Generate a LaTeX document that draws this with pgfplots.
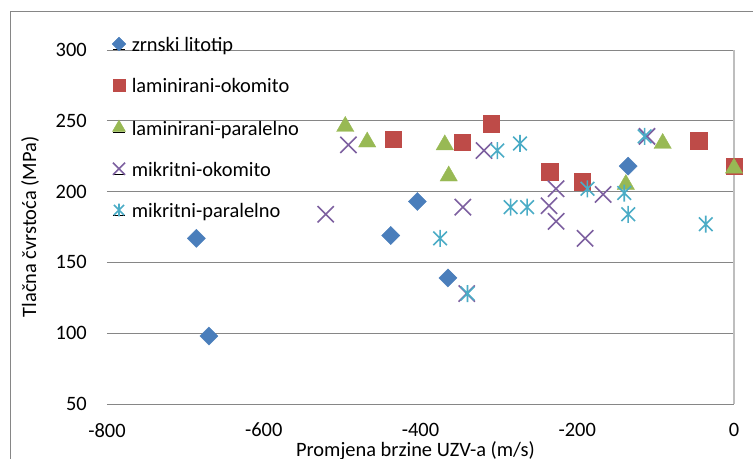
\documentclass[border=0pt]{standalone}
\usepackage{fontspec}
\setmainfont{Carlito}
\usepackage{pgfplots}
\pgfplotsset{compat=1.18}
\definecolor{zrnski}{RGB}{74,126,187}
\definecolor{lamok}{RGB}{190,75,72}
\definecolor{lampar}{RGB}{152,185,84}
\definecolor{mikok}{RGB}{125,96,160}
\definecolor{mikpar}{RGB}{75,172,198}
\definecolor{gridgray}{RGB}{134,134,134}
\definecolor{rightgray}{RGB}{190,190,190}

% Excel-style star: vertical bar plus an x
\pgfdeclareplotmark{xstar}{%
  \pgfpathmoveto{\pgfqpoint{0pt}{-\pgfplotmarksize}}%
  \pgfpathlineto{\pgfqpoint{0pt}{\pgfplotmarksize}}%
  \pgfpathmoveto{\pgfqpoint{-.8\pgfplotmarksize}{-.8\pgfplotmarksize}}%
  \pgfpathlineto{\pgfqpoint{.8\pgfplotmarksize}{.8\pgfplotmarksize}}%
  \pgfpathmoveto{\pgfqpoint{-.8\pgfplotmarksize}{.8\pgfplotmarksize}}%
  \pgfpathlineto{\pgfqpoint{.8\pgfplotmarksize}{-.8\pgfplotmarksize}}%
  \pgfusepathqstroke}

\pgfplotsset{
  dots/.style={only marks,
    legend image code/.code={\path (-6bp,0bp) -- (6bp,0bp);
      \draw[##1,/tikz/every mark/.append style={scale=0.75}] plot coordinates {(0bp,5bp)};}},
}

\begin{document}
\begin{tikzpicture}[font=\fontsize{20.5}{24}\selectfont]
\useasboundingbox (-107bp,-55bp) rectangle (646bp,404bp);
\draw[gridgray, line width=1bp] (-96bp,-70bp) -- (-96bp,392bp) -- (670bp,392bp);
\begin{axis}[
  at={(0,0)}, anchor=south west,
  scale only axis, width=627bp, height=354bp,
  xmin=-800, xmax=0, ymin=50, ymax=300,
  clip=false,
  axis line style={draw=none},
  xtick={-800,-600,-400,-200,0},
  xticklabels={-800,-600,-400,-200,0},
  ytick={50,100,...,300},
  ymajorgrids,
  grid style={gridgray, line width=0.9bp},
  major tick length=0pt,
  /pgf/number format/assume math mode=true,
  ticklabel style={font=\fontsize{20.5}{24}\selectfont, inner sep=0pt},
  yticklabel style={anchor=east, xshift=-20bp},
  xticklabel style={anchor=north, yshift=-19bp},
  xlabel={Promjena brzine UZV-a (m/s)},
  ylabel={Tlačna čvrstoća (MPa)},
  label style={font=\fontsize{20.5}{24}\selectfont, inner sep=0pt},
  xlabel style={at={(axis description cs:0.492,-0.132)}, anchor=center},
  ylabel style={at={(axis description cs:-0.1228,0.5)}, anchor=center},
  legend cell align=left,
  legend style={at={(axis description cs:0.008,1.0366)}, anchor=north west,
    draw=none, fill=none, inner sep=0pt, row sep=23bp, column sep=4bp,
    nodes={inner sep=2bp, text height=0.75em, text depth=0.25em,
      font=\fontsize{20.5}{24}\selectfont}},
]
\draw[rightgray, line width=1.5bp] (axis cs:0,50) -- (axis cs:0,300);

\addplot[dots, mark=square*, mark size=6.4bp,
  mark options={rotate=45, fill=zrnski, draw=zrnski}] coordinates {
  (-686,167) (-670,98) (-438,169) (-404,193) (-365,139) (-135,218)
};
\addplot[dots, mark=square*, mark size=8.2bp,
  mark options={fill=lamok, draw=lamok}] coordinates {
  (-435,237) (-347,235) (-310,248) (-235,214) (-194,207) (-45,236) (0,218)
};
\addplot[dots, mark=triangle*, mark size=10bp,
  mark options={fill=lampar, draw=lampar}] coordinates {
  (-496,246) (-468,235) (-369,233) (-364,211) (-138,205) (-91,234) (0,216.5)
};
\addplot[dots, mark=x, mark size=11.5bp,
  mark options={draw=mikok, line width=1.6bp}] coordinates {
  (-521,184) (-492,233) (-346,189) (-341,128) (-319,229) (-236,190)
  (-227,202) (-227,179) (-190,167) (-167,198) (-111,239)
};
\addplot[dots, mark=xstar, mark size=8.5bp,
  mark options={draw=mikpar, line width=1.6bp}] coordinates {
  (-375,167) (-340,128) (-302,229) (-273,234) (-285,189) (-264,189)
  (-187,202) (-140,199) (-135,184) (-36,177) (-114,239)
};
\legend{zrnski litotip, laminirani-okomito, laminirani-paralelno, mikritni-okomito, mikritni-paralelno}
\end{axis}
\end{tikzpicture}
\end{document}
